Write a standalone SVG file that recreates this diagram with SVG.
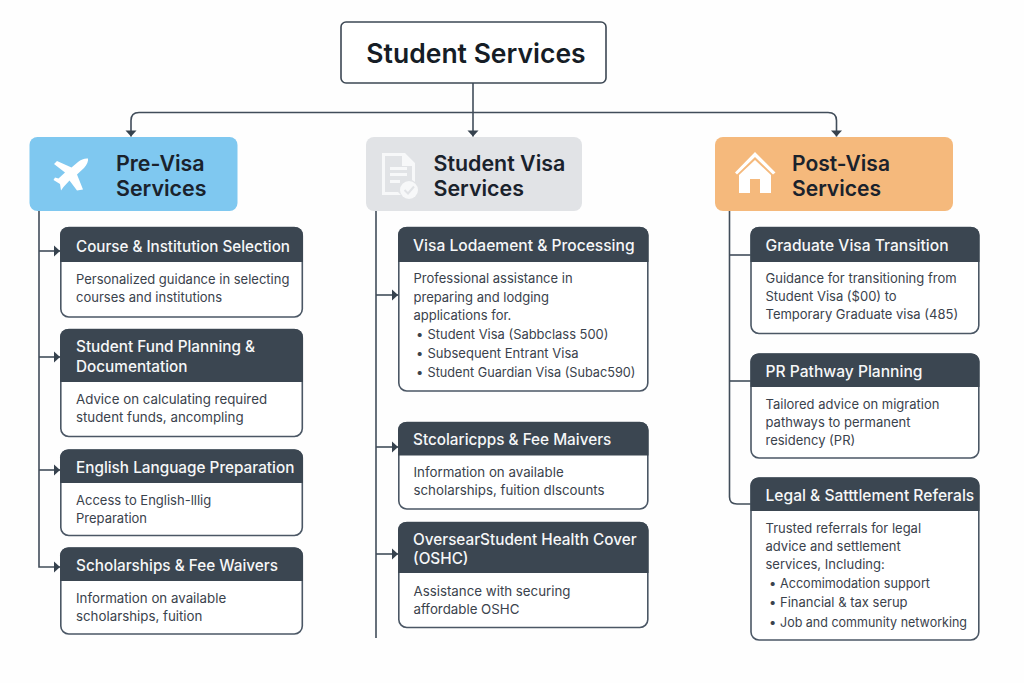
<svg xmlns="http://www.w3.org/2000/svg" width="1024" height="683" viewBox="0 0 1024 683">
<style>
text{font-family:Inter,"Liberation Sans",sans-serif}
.bg{fill:#fefefe}
.root{fill:#fff;stroke:#3d4854;stroke-width:1.6}
.rt{font-size:26.500px;font-weight:600;fill:#161d26}
.ct{font-size:21.400px;font-weight:600;fill:#1a222c}
.card{fill:#fff;stroke:#4b5765;stroke-width:1.6}
.hd{fill:#3b4651}
.h{font-size:15.300px;font-weight:500;fill:#f6f7f8}
.h2{font-size:15.600px}
.b{font-size:13px;font-weight:400;fill:#3a424c}
.b3{font-size:13.300px}
.ln{fill:none;stroke:#414d5a;stroke-width:1.6}
.ic{fill:#fff}
.doc{fill:#f7f8f9}
</style>
<defs>
<marker id="ad" markerUnits="userSpaceOnUse" markerWidth="7" markerHeight="12" refX="6.500" refY="6" orient="auto" viewBox="0 0 7 12"><path d="M.5 .5V11.500L6.500 6Z" fill="#36424e"/></marker>
</defs>
<rect class="bg" width="1024" height="683"/>
<g id="connectors">
<path class="ln" d="M473 83V136.500" marker-end="url(#ad)"/>
<path class="ln" d="M473 112.500H139Q131 112.500 131 120.500V136.500" marker-end="url(#ad)"/>
<path class="ln" d="M473 112.500H828Q836.500 112.500 836.500 120.500V136.500" marker-end="url(#ad)"/>
<path class="ln" d="M39 211V567H60" marker-end="url(#ad)"/>
<path class="ln" d="M39 251H60" marker-end="url(#ad)"/>
<path class="ln" d="M39 357H60" marker-end="url(#ad)"/>
<path class="ln" d="M39 470H60" marker-end="url(#ad)"/>
<path class="ln" d="M376 211V638"/>
<path class="ln" d="M376 295H398" marker-end="url(#ad)"/>
<path class="ln" d="M376 447H398" marker-end="url(#ad)"/>
<path class="ln" d="M376 554H398" marker-end="url(#ad)"/>
<path class="ln" d="M729.500 211V497Q729.500 504 737 504H751"/>
<path class="ln" d="M729.500 255H751"/>
<path class="ln" d="M729.500 381H751"/>
</g>
<g id="root"><rect class="root" x="341" y="22" width="265" height="61" rx="5"/><text class="rt" x="476" y="63" text-anchor="middle">Student Services</text></g>
<g id="pre-visa"><rect x="29.500" y="137" width="208" height="74" rx="8" fill="#7fc8f0"/>
<path class="ic" d="M88 158.500C85 158 81 159.500 78 162L71.500 167.500L57 161L54 164L65 172.500L58.500 178.500L55 177.500L53.500 180L60 184L61 190.500L63.500 187L69.500 180.500L77 190.500L83 189.500L77 174.500L84 168C87 165 88.500 161 88 158.500Z"/>
<text class="ct" x="116" y="171">Pre-Visa</text><text class="ct" x="116" y="196">Services</text></g>
<g id="student-visa"><rect x="366" y="137" width="216" height="74" rx="8" fill="#e1e3e6"/>
<path class="doc" fill-rule="evenodd" d="M382 153H405L415 163V182L412 180V166H402V156H385V192H398L401 195H382Z"/>
<path class="doc" d="M390 167H407V170H390ZM390 173H407V176H390ZM390 180H400V183H390Z"/>
<circle class="doc" cx="409" cy="190" r="9"/><path d="M404.500 190L408 193.500L414 186.500" fill="none" stroke="#e1e3e6" stroke-width="2"/>
<text class="ct" x="433.500" y="171">Student Visa</text><text class="ct" x="433.500" y="196">Services</text></g>
<g id="post-visa"><rect x="715" y="137" width="238" height="74" rx="8" fill="#f5b97c"/>
<path class="ic" d="M755 152L775.500 172.500L773 174.500L755 157L737 174.500L735 172.500Z"/>
<path class="ic" fill-rule="evenodd" d="M755 160L771 175V193H739V175ZM750 179V193H760V179Z"/>
<text class="ct" x="792" y="171" textLength="98" lengthAdjust="spacingAndGlyphs">Post-Visa</text><text class="ct" x="792" y="196" textLength="89" lengthAdjust="spacingAndGlyphs">Services</text></g>

<g id="pre-1"><rect class="card" x="60.800" y="227.500" width="241.500" height="89.500" rx="8"/><path class="hd" d="M60 262V235a8 8 0 0 1 8-8H295a8 8 0 0 1 8 8V262Z"/>
<text class="h" x="76" y="251.500" textLength="214" lengthAdjust="spacingAndGlyphs">Course &amp; Institution Selection</text>
<text class="b" x="76" y="284">Personalized guidance in selecting</text><text class="b" x="76" y="302">courses and institutions</text></g>
<g id="pre-2"><rect class="card" x="60.800" y="329.500" width="241.500" height="107" rx="8"/><path class="hd" d="M60 382V337a8 8 0 0 1 8-8H295a8 8 0 0 1 8 8V382Z"/>
<text class="h" x="76" y="352">Student Fund Planning &amp;</text><text class="h" x="76" y="372">Documentation</text>
<text class="b b3" x="76" y="404">Advice on calculating required</text><text class="b b3" x="76" y="422">student funds, ancompling</text></g>
<g id="pre-3"><rect class="card" x="60.800" y="450" width="241.500" height="85.500" rx="8"/><path class="hd" d="M60 483V457.500a8 8 0 0 1 8-8H295a8 8 0 0 1 8 8V483Z"/>
<text class="h" x="76" y="472.500">English Language Preparation</text>
<text class="b" x="76" y="505">Access to English-lllig</text><text class="b" x="76" y="523">Preparation</text></g>
<g id="pre-4"><rect class="card" x="60.800" y="548" width="241.500" height="86" rx="8"/><path class="hd" d="M60 581V555.500a8 8 0 0 1 8-8H295a8 8 0 0 1 8 8V581Z"/>
<text class="h" x="76" y="571">Scholarships &amp; Fee Waivers</text>
<text class="b b3" x="76" y="603">Information on available</text><text class="b b3" x="76" y="621">scholarships, fuition</text></g>

<g id="stu-1"><rect class="card" x="398.800" y="227.500" width="249" height="163.500" rx="8"/><path class="hd" d="M398 262V235a8 8 0 0 1 8-8H640.500a8 8 0 0 1 8 8V262Z"/>
<text class="h h2" x="413" y="250.500">Visa Lodaement &amp; Processing</text>
<text class="b" x="413.500" y="283">Professional assistance in</text><text class="b" x="413.500" y="301.500">preparing and lodging</text><text class="b" x="413.500" y="319.500">applications for.</text>
<text class="b" x="416" y="339">•</text><text class="b" x="427.500" y="339" textLength="181" lengthAdjust="spacingAndGlyphs">Student Visa (Sabbclass 500)</text>
<text class="b" x="416" y="358">•</text><text class="b" x="427.500" y="358">Subsequent Entrant Visa</text>
<text class="b" x="416" y="377">•</text><text class="b" x="427.500" y="377" textLength="208" lengthAdjust="spacingAndGlyphs">Student Guardian Visa (Subac590)</text></g>
<g id="stu-2"><rect class="card" x="398.800" y="422.500" width="249" height="86.500" rx="8"/><path class="hd" d="M398 455.500V430a8 8 0 0 1 8-8H640.500a8 8 0 0 1 8 8V455.500Z"/>
<text class="h" x="413" y="445">Stcolaricpps &amp; Fee Maivers</text>
<text class="b b3" x="413.500" y="477">Information on available</text><text class="b b3" x="413.500" y="495">scholarships, fuition dlscounts</text></g>
<g id="stu-3"><rect class="card" x="398.800" y="522.500" width="249" height="105" rx="8"/><path class="hd" d="M398 573V530a8 8 0 0 1 8-8H640.500a8 8 0 0 1 8 8V573Z"/>
<text class="h" x="413" y="545">OversearStudent Health Cover</text><text class="h" x="413" y="564">(OSHC)</text>
<text class="b b3" x="413.500" y="596">Assistance with securing</text><text class="b b3" x="413.500" y="614">affordable OSHC</text></g>

<g id="post-1"><rect class="card" x="751" y="227.500" width="227.800" height="106" rx="8"/><path class="hd" d="M750.500 262V235a8 8 0 0 1 8-8H971.500a8 8 0 0 1 8 8V262Z"/>
<text class="h h2" x="765.500" y="250.500">Graduate Visa Transition</text>
<text class="b" x="765.500" y="283">Guidance for transitioning from</text><text class="b" x="765.500" y="301">Student Visa ($00) to</text><text class="b" x="765.500" y="319">Temporary Graduate visa (485)</text></g>
<g id="post-2"><rect class="card" x="751" y="354" width="227.800" height="104" rx="8"/><path class="hd" d="M750.500 387V361.500a8 8 0 0 1 8-8H971.500a8 8 0 0 1 8 8V387Z"/>
<text class="h h2" x="765.500" y="376.500">PR Pathway Planning</text>
<text class="b" x="765.500" y="409">Tailored advice on migration</text><text class="b" x="765.500" y="427">pathways to permanent</text><text class="b" x="765.500" y="445">residency (PR)</text></g>
<g id="post-3"><rect class="card" x="751" y="478" width="227.800" height="162" rx="8"/><path class="hd" d="M750.500 511V485.500a8 8 0 0 1 8-8H971.500a8 8 0 0 1 8 8V511Z"/>
<text class="h h2" x="765.500" y="500.500">Legal &amp; Satttlement Referals</text>
<text class="b" x="765.500" y="533">Trusted referrals for legal</text><text class="b" x="765.500" y="551">advice and settlement</text><text class="b" x="765.500" y="569">services, Including:</text>
<text class="b" x="769" y="588">•</text><text class="b" x="780" y="588" textLength="150" lengthAdjust="spacingAndGlyphs">Accomimodation support</text>
<text class="b" x="769" y="607">•</text><text class="b" x="780" y="607">Financial &amp; tax serup</text>
<text class="b" x="769" y="626.500">•</text><text class="b" x="780" y="626.500" textLength="187" lengthAdjust="spacingAndGlyphs">Job and community networking</text></g>
</svg>
